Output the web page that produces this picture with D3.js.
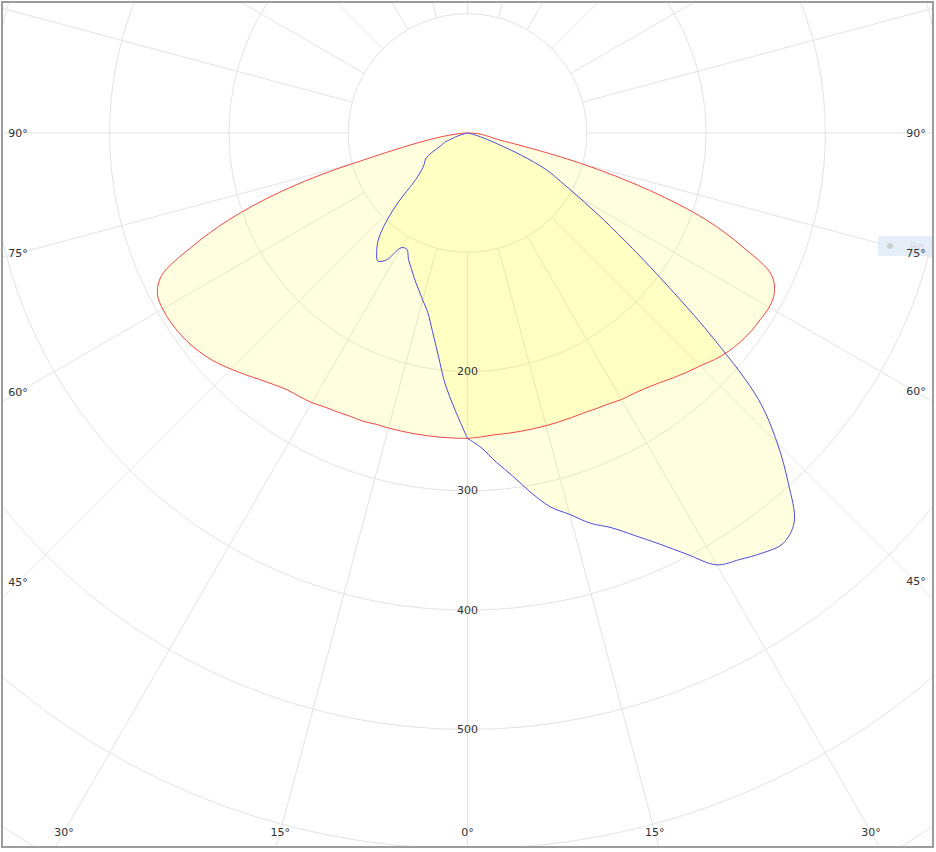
<!DOCTYPE html>
<html>
<head>
<meta charset="utf-8">
<script src="https://cdn.jsdelivr.net/npm/d3@7/dist/d3.min.js"></script>
<style>
  body { margin: 0; background: #fff; }
  text { font-family: "DejaVu Sans", Verdana, sans-serif; }
</style>
</head>
<body>
<svg id="chart" width="936" height="852"></svg>
<script>
// Polar light distribution diagram (cd), gamma measured from nadir (0° = straight down)

// gamma angles of the measurements, degrees
const gammas = [0, 2.5, 5, 7.5, 10, 12.5, 15, 17.5, 20, 22.5, 25, 27.5, 30, 32.5, 35, 37.5, 40, 42.5,
                45, 47.5, 50, 52.5, 55, 57.5, 60, 62.5, 65, 67.5, 70, 72.5, 75, 77.5, 80, 82.5, 85, 87.5, 90];

// red curve, right half (C0) and left half (C180)
const c0   = [256, 255, 254, 254, 254, 254, 254, 254, 254, 254, 255, 256, 258, 259, 261, 264, 268, 272,
              276, 281, 285, 288, 290, 291, 292, 290, 281, 250, 213, 160, 98, 30, 0, 0, 0, 0, 0];
const c180 = [256, 256, 256, 256, 256, 256, 256, 256, 257, 257, 258, 259, 261, 262, 263, 266, 270, 275,
              280, 285, 289, 292, 294, 295, 295, 293, 283, 251, 213, 165, 102, 0, 0, 0, 0, 0, 0];

// blue curve, right half (C90) and left half (C270)
const c90  = [256, 264, 277, 290, 306, 321, 331, 343, 352, 365, 380, 398, 418, 424, 430, 434, 426, 398,
              367, 331, 272, 214, 169, 135, 108, 88, 73, 49, 27, 15, 8, 3, 0, 0, 0, 0, 0];
const c270 = [256, 233, 212, 188, 169, 154, 145, 137, 130, 123, 117, 110, 111, 126, 131, 125, 116, 101,
              82, 61, 52, 47, 44, 42, 38, 30, 24, 21, 14, 9, 5, 2, 0, 0, 0, 0, 0];

// grid
const ringValues   = [100, 200, 300, 400, 500, 600, 700];
const ringLabels   = [200, 300, 400, 500];
const spokeAngles  = d3.range(0, 360, 15);
const sideLabels   = [90, 75, 60, 45];
const bottomLabels = [-30, -15, 0, 15, 30];

const cx = 467.5, cy = 133;

const svg = d3.select("#chart");

const r = d3.scaleLinear().domain([0, 100]).range([0, 119.3]);

// clip for everything inside the frame
svg.append("defs").append("clipPath").attr("id", "frameClip")
  .append("rect").attr("x", 3).attr("y", 3).attr("width", 929).attr("height", 844);

const plot = svg.append("g").attr("clip-path", "url(#frameClip)");
const g = plot.append("g").attr("transform", "translate(" + cx + "," + cy + ")");

// rings
g.selectAll(".ring").data(ringValues).enter()
  .append("circle")
  .attr("r", d => r(d))
  .attr("fill", "none")
  .attr("stroke", "#e3e3e3")
  .attr("stroke-width", 1);

// spokes start at the 100 ring
g.selectAll(".spoke").data(spokeAngles).enter()
  .append("line")
  .attr("x1", d => r(100) * Math.sin(d * Math.PI / 180))
  .attr("y1", d => r(100) * Math.cos(d * Math.PI / 180))
  .attr("x2", d => 1200 * Math.sin(d * Math.PI / 180))
  .attr("y2", d => 1200 * Math.cos(d * Math.PI / 180))
  .attr("stroke", "#e3e3e3")
  .attr("stroke-width", 1);

// closed outline: right half 0..90, then left half 90..0 (zero points collapse to one)
function outline(right, left) {
  const pts = [];
  gammas.forEach((gm, i) => {
    if (right[i] > 0 || i === gammas.length - 1) pts.push([Math.PI - gm * Math.PI / 180, r(right[i])]);
  });
  for (let i = gammas.length - 1; i >= 0; i--) {
    if (left[i] > 0) pts.push([Math.PI + gammas[i] * Math.PI / 180, r(left[i])]);
  }
  return pts;
}

const radial = d3.lineRadial()
  .angle(d => d[0])
  .radius(d => d[1])
  .curve(d3.curveCatmullRomClosed.alpha(0.5));

const curves = [
  {name: "C0-C180", pts: outline(c0, c180), color: "#f04646"},
  {name: "C90-C270", pts: outline(c90, c270), color: "#4b4bdc"}
];

g.selectAll(".fill").data(curves).enter()
  .append("path")
  .attr("d", d => radial(d.pts))
  .attr("fill", "#ffff00")
  .attr("fill-opacity", 0.12)
  .attr("stroke", "none");

g.selectAll(".outline").data(curves).enter()
  .append("path")
  .attr("d", d => radial(d.pts))
  .attr("fill", "none")
  .attr("stroke", d => d.color)
  .attr("stroke-width", 1);

// radial value labels along the 0° spoke
g.selectAll(".rlabel").data(ringLabels).enter()
  .append("text")
  .attr("x", 0)
  .attr("y", d => r(d))
  .attr("text-anchor", "middle")
  .attr("dominant-baseline", "central")
  .style("font-size", "11px")
  .attr("fill", "#333")
  .text(d => d);

// legend (mostly outside the frame)
const legend = plot.append("g").attr("transform", "translate(878,236)");
legend.append("rect").attr("width", 80).attr("height", 20).attr("fill", "#dce7f6").attr("opacity", 0.7);
legend.append("circle").attr("cx", 12).attr("cy", 10).attr("r", 3).attr("fill", "#cfcfcf");
legend.append("text").attr("x", 32).attr("y", 14).style("font-size", "11px").attr("fill", "#d6d6d6").text("Re");

// angle labels where spokes meet the label band
const labelLeft = 18, labelRight = 916, labelBottom = 832;
const side = [];
sideLabels.forEach(a => {
  const t = Math.tan((90 - a) * Math.PI / 180);
  side.push({a: a, x: labelLeft, y: cy + (cx - labelLeft) * t});
  side.push({a: a, x: labelRight, y: cy + (labelRight - cx) * t});
});
bottomLabels.forEach(a => {
  side.push({a: Math.abs(a), x: cx + (labelBottom - cy) * Math.tan(a * Math.PI / 180), y: labelBottom});
});

plot.selectAll(".alabel").data(side).enter()
  .append("text")
  .attr("x", d => d.x)
  .attr("y", d => d.y)
  .attr("text-anchor", "middle")
  .attr("dominant-baseline", "central")
  .style("font-size", "11px")
  .attr("fill", "#333")
  .text(d => d.a + "°");

// frame
svg.append("rect")
  .attr("x", 2).attr("y", 2).attr("width", 931).attr("height", 845)
  .attr("fill", "none")
  .attr("stroke", "#9c9c9c")
  .attr("stroke-width", 2);
</script>
</body>
</html>
